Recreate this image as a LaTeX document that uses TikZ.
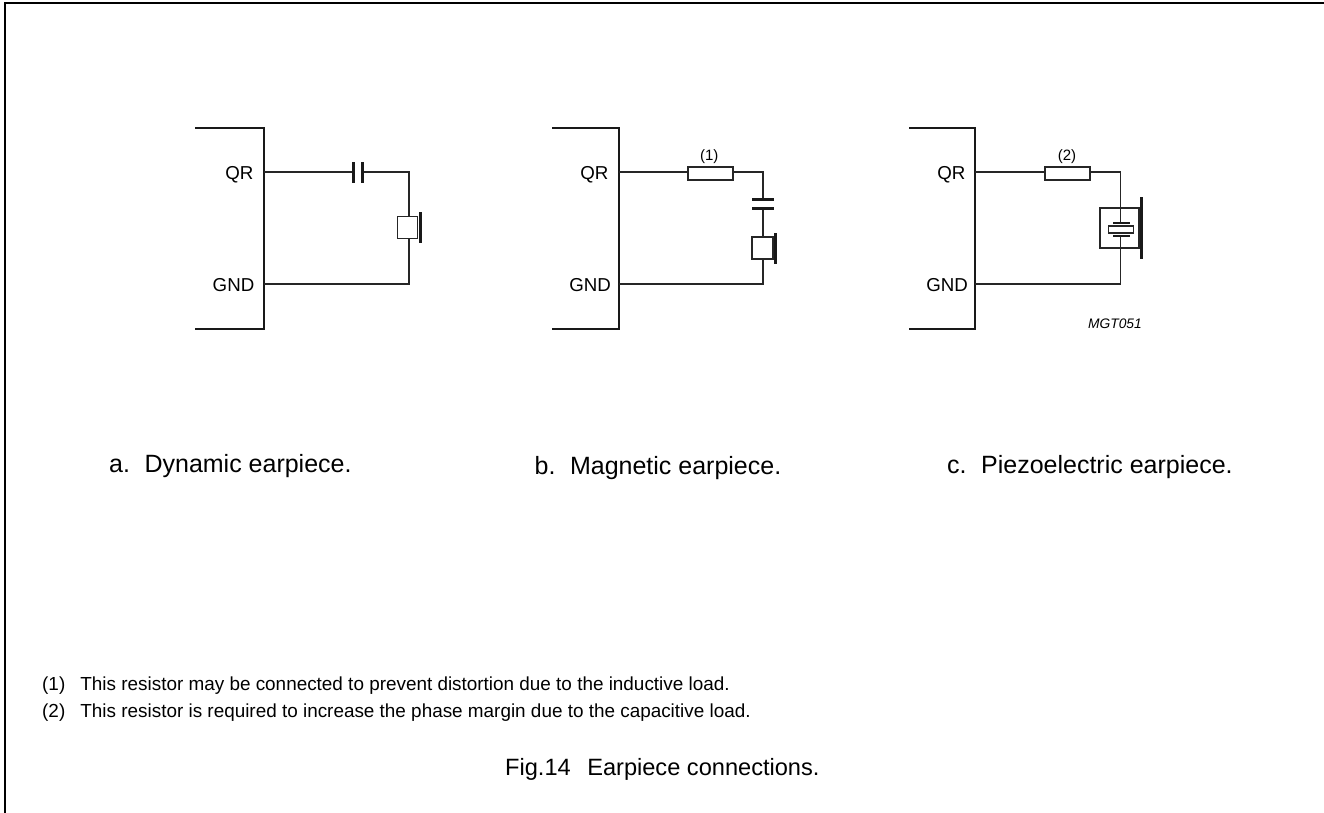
\documentclass[tikz,border=0pt]{standalone}
\usepackage{fontspec}
\setmainfont{Liberation Sans}
\tikzset{
  x=1pt,y=-1pt,
  wire/.style={line width=1.2pt,black!85},
  chip/.style={line width=2.7pt,black!90},
  plate/.style={line width=3pt,black!90},
  thinplate/.style={line width=2.2pt,black!90},
  part/.style={draw=black!85,line width=1.2pt,fill=white,inner sep=0pt,outer sep=0pt,minimum width=#1},
  pin/.style={anchor=base east,inner sep=0pt,font=\fontsize{18.7}{18.7}\selectfont},
  caption/.style={anchor=base west,inner sep=0pt,font=\fontsize{25}{25}\selectfont},
  note/.style={anchor=base west,inner sep=0pt,font=\fontsize{18.9}{18.9}\selectfont},
  small/.style={anchor=base,inner sep=0pt,font=\fontsize{15}{15}\selectfont},
}
\begin{document}
\begin{tikzpicture}
\useasboundingbox (0,0) rectangle (1324,812);
\draw[line width=1.7pt,line cap=rect] (1324,3.3) -- (5,3.3) -- (5,812);

% a
\draw[chip] (195,128) -- (264,128) -- (264,329) -- (195,329);
\coordinate (aq) at (264,172); \coordinate (ag) at (264,284);
\coordinate (ac1) at (353,172); \coordinate (ac2) at (362,172);
\coordinate (ac) at (409,172); \coordinate (ab) at (409,284);
\node[pin] (aqr) at (253.5,179.7) {QR};
\node[pin] (agnd) at (254.5,291.5) {GND};
\node[part=20pt,minimum height=21.5pt] (ae) at (407.5,227.5) {};
\draw[wire] (aq) -- (ac1);
\draw[wire] (ac2) -- (ac) -- (ae.north -| ac);
\draw[wire] (ae.south -| ac) -- (ab) -- (ag);
\draw[plate] (353,162) -- (353,183);
\draw[plate] (362,162) -- (362,183);
\draw[plate] (420,212) -- (420,243);

% b
\draw[chip] (552,128) -- (619,128) -- (619,329) -- (552,329);
\coordinate (bq) at (619,172); \coordinate (bg) at (619,284);
\coordinate (bc) at (763,172); \coordinate (bb) at (763,284);
\coordinate (bp1) at (763,199); \coordinate (bp2) at (763,208);
\node[pin] (bqr) at (608.5,179.7) {QR};
\node[pin] (bgnd) at (611,291.5) {GND};
\node[part=45pt,minimum height=13pt] (br) at (710.5,173.5) {};
\node[small] (bl) at (709.2,160) {(1)};
\node[part=21pt,minimum height=22pt] (be) at (762.5,248) {};
\draw[wire] (bq) -- (bq -| br.west);
\draw[wire] (bq -| br.east) -- (bc) -- (bp1);
\draw[wire] (bp2) -- (be.north -| bc);
\draw[wire] (be.south -| bc) -- (bb) -- (bg);
\draw[plate] (752,199) -- (774,199);
\draw[plate] (752,208) -- (774,208);
\draw[plate] (775,233) -- (775,264);

% c
\draw[chip] (909,128) -- (975,128) -- (975,329) -- (909,329);
\coordinate (cq) at (975,172); \coordinate (cg) at (975,284);
\coordinate (cc) at (1120.5,172); \coordinate (cb) at (1120.5,284);
\coordinate (cp1) at (1120.5,223); \coordinate (cp2) at (1120.5,236);
\node[pin] (cqr) at (965.5,179.7) {QR};
\node[pin] (cgnd) at (968,291.5) {GND};
\node[part=45pt,minimum height=13pt] (cr) at (1067.5,173.5) {};
\node[small] (cl) at (1067,160) {(2)};
\node[part=39pt,minimum height=40pt] (ce) at (1119.5,228) {};
\node[part=25pt,minimum height=7pt] (cx) at (1121,229.5) {};
\draw[wire] (cq) -- (cq -| cr.west);
\draw[wire] (cq -| cr.east) -- (cc) -- (cp1);
\draw[wire] (cp2) -- (cb) -- (cg);
\draw[thinplate] (1113,223) -- (1130,223);
\draw[thinplate] (1113,236) -- (1130,236);
\draw[plate] (1141,197) -- (1141,259);
\node[anchor=base east,inner sep=0pt,font=\itshape\fontsize{13.8}{13.8}\selectfont] (mg) at (1142,328.3) {MGT051};

% captions
\node[caption] (ca) at (109,472.3) {a.\hspace{0.58em}Dynamic earpiece.};
\node[caption] (cb2) at (534.5,474) {b.\hspace{0.58em}Magnetic earpiece.};
\node[caption] (cc2) at (947,473.3) {c.\hspace{0.58em}Piezoelectric earpiece.};
\node[note] (n1) at (42,690) {(1)\hspace{0.8em}This resistor may be connected to prevent distortion due to the inductive load.};
\node[note] (n2) at (42,717.5) {(2)\hspace{0.8em}This resistor is required to increase the phase margin due to the capacitive load.};
\node[caption,font=\fontsize{23.6}{23.6}\selectfont] (fig) at (505,775) {Fig.14\hspace{0.7em}Earpiece connections.};
\end{tikzpicture}
\end{document}
